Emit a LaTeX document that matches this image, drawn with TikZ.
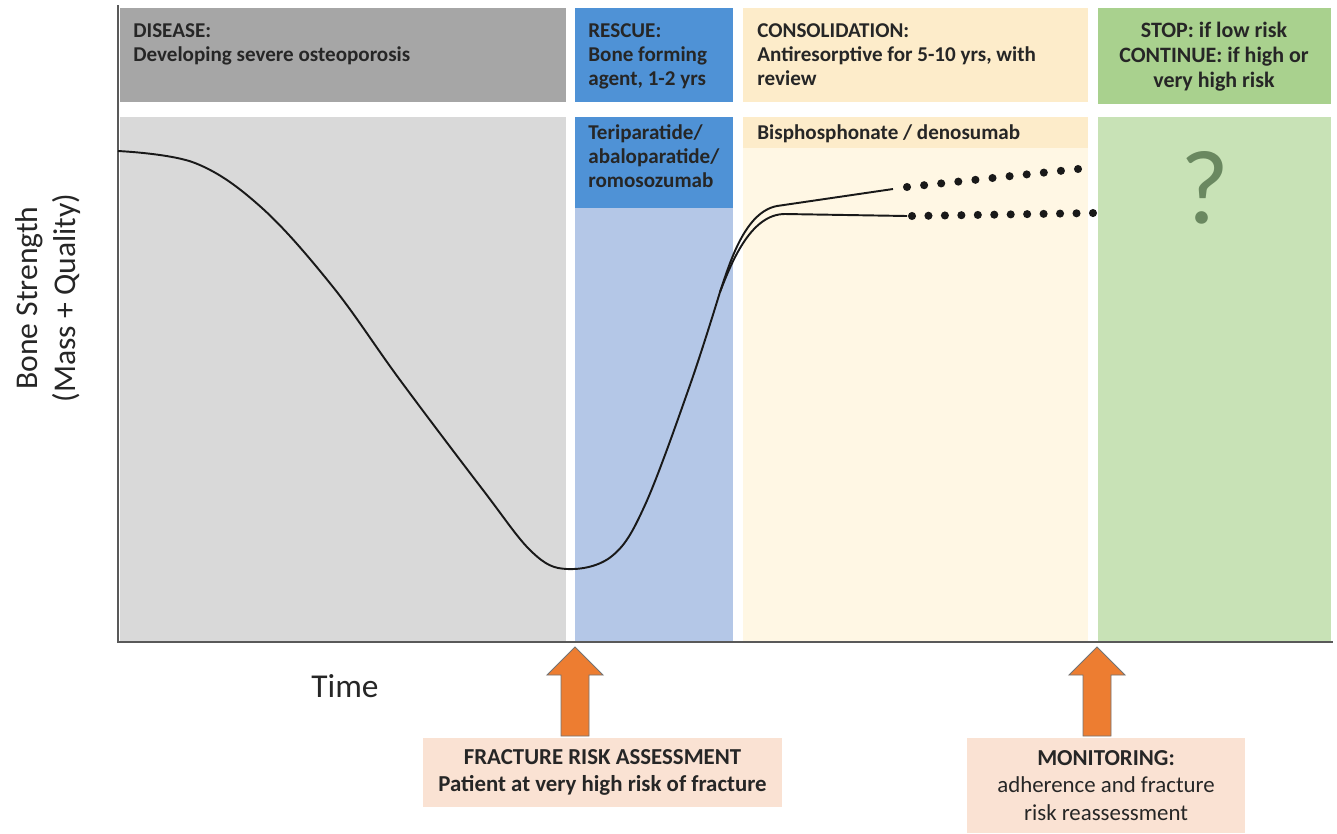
\documentclass[tikz,border=0pt]{standalone}
\usepackage{fontspec}
\setmainfont{Carlito}
\usepackage{xcolor}
\definecolor{dsgray}{RGB}{166,166,166}
\definecolor{dsgraylt}{RGB}{217,217,217}
\definecolor{rsblue}{RGB}{79,146,214}
\definecolor{rsbluelt}{RGB}{180,199,231}
\definecolor{cscream}{RGB}{253,236,202}
\definecolor{csnlt}{RGB}{255,247,228}
\definecolor{stgreen}{RGB}{169,209,142}
\definecolor{stgreenlt}{RGB}{200,226,182}
\definecolor{qmark}{RGB}{106,136,96}
\definecolor{arrorange}{RGB}{237,125,49}
\definecolor{notepeach}{RGB}{250,226,211}
\definecolor{txtdark}{RGB}{38,38,38}
\usetikzlibrary{positioning}

\begin{document}
\begin{tikzpicture}[x=0.02cm,y=-0.02cm,
  hdr/.style={font=\fontsize{12}{13.5}\selectfont\bfseries,text=txtdark,align=left,inner sep=0pt,anchor=base west},
  curve/.style={line width=1.1pt,black!90},
  dot/.style={fill=black!90},
  blockarr/.style={fill=arrorange,draw=black!55,line width=0.5pt},
  notebox/.style={fill=notepeach,inner sep=0pt,font=\fontsize{13}{15.5}\selectfont,align=center,text=txtdark}]
  \useasboundingbox (0,0) rectangle (1337,833);
  % Disease phase (text nodes sit on the baseline of their last line)
  \fill[dsgray] (120,8) rectangle (566,102);
  \fill[dsgraylt] (120,117) rectangle (566,642);
  \node[hdr] (disT) at (133,61) {DISEASE:\\Developing severe osteoporosis};
  % Rescue phase
  \fill[rsblue] (575,8) rectangle (733,102);
  \fill[rsbluelt] (575,117) rectangle (733,642);
  \fill[rsblue] (575,117) rectangle (733,208);
  \node[hdr] (resT) at (588,85) {RESCUE:\\Bone forming\\agent, 1-2 yrs};
  \node[hdr] (resD) at (588,187) {Teriparatide/\\abaloparatide/\\romosozumab};
  % Consolidation phase
  \fill[cscream] (743,8) rectangle (1088,102);
  \fill[csnlt] (743,117) rectangle (1088,642);
  \fill[cscream] (743,117) rectangle (1088,148);
  \node[hdr] (conT) at (757,85) {CONSOLIDATION:\\Antiresorptive for 5-10 yrs, with\\review};
  \node[hdr] (conD) at (757,139) {Bisphosphonate / denosumab};
  % Stop / continue
  \fill[stgreen] (1098,8) rectangle (1331,104);
  \fill[stgreenlt] (1098,117) rectangle (1331,642);
  \node[hdr,align=center,anchor=base,font=\fontsize{12.5}{14}\selectfont\bfseries] (stpT) at (1214,87) {STOP: if low risk\\CONTINUE: if high or\\very high risk};
  \node[font=\fontsize{60}{60}\selectfont,text=qmark] (qm) at (1205,188) {?};
  % Axes
  \draw[black!65,line width=1pt] (118,5) -- (118,642) -- (1333,642);
  \node[font=\fontsize{18}{21.5}\selectfont,text=txtdark,align=center,rotate=90] (ylab) at (48,298) {Bone Strength\\(Mass + Quality)};
  \node[font=\fontsize{19}{22}\selectfont,text=txtdark] (time) at (345,686) {Time};
  % Bone strength curve
  \draw[curve] plot[smooth,tension=0.6] coordinates {(118,151) (195,163) (262,208) (333,287) (400,380) (483,490) (532,552) (567,569) (612,556) (645,505) (690,385) (720,292)};
  \draw[curve] (720,292) .. controls (730,262) and (745,212) .. (777,206) -- (893,189);
  \draw[curve] (720,292) .. controls (733,258) and (752,214) .. (785,214) -- (907,216);
  \foreach \i in {0,...,10}
    \fill[dot] ({907+17.1*\i},{187-1.8*\i}) circle[radius=2.3pt];
  \foreach \i in {0,...,11}
    \fill[dot] ({912+16.45*\i},{216-0.27*\i}) circle[radius=2.3pt];
  % Assessment and monitoring
  \node[notebox,minimum width=7.18cm,minimum height=1.38cm] (fra) at (602.5,772.5)
    {\textbf{FRACTURE RISK ASSESSMENT}\\\textbf{Patient at very high risk of fracture}};
  \node[notebox,minimum width=5.56cm,minimum height=1.9cm] (mon) at (1106,785.5)
    {\textbf{MONITORING:}\\adherence and fracture\\risk reassessment};
  \coordinate (fratip) at (575,647);
  \coordinate (montip) at (1097,647);
  \draw[blockarr] (fratip) -- ++(28,28) -- ++(-14,0) -- ++(0,61) -- ++(-28,0) -- ++(0,-61) -- ++(-14,0) -- cycle;
  \draw[blockarr] (montip) -- ++(28,28) -- ++(-14,0) -- ++(0,61) -- ++(-28,0) -- ++(0,-61) -- ++(-14,0) -- cycle;
\end{tikzpicture}
\end{document}
